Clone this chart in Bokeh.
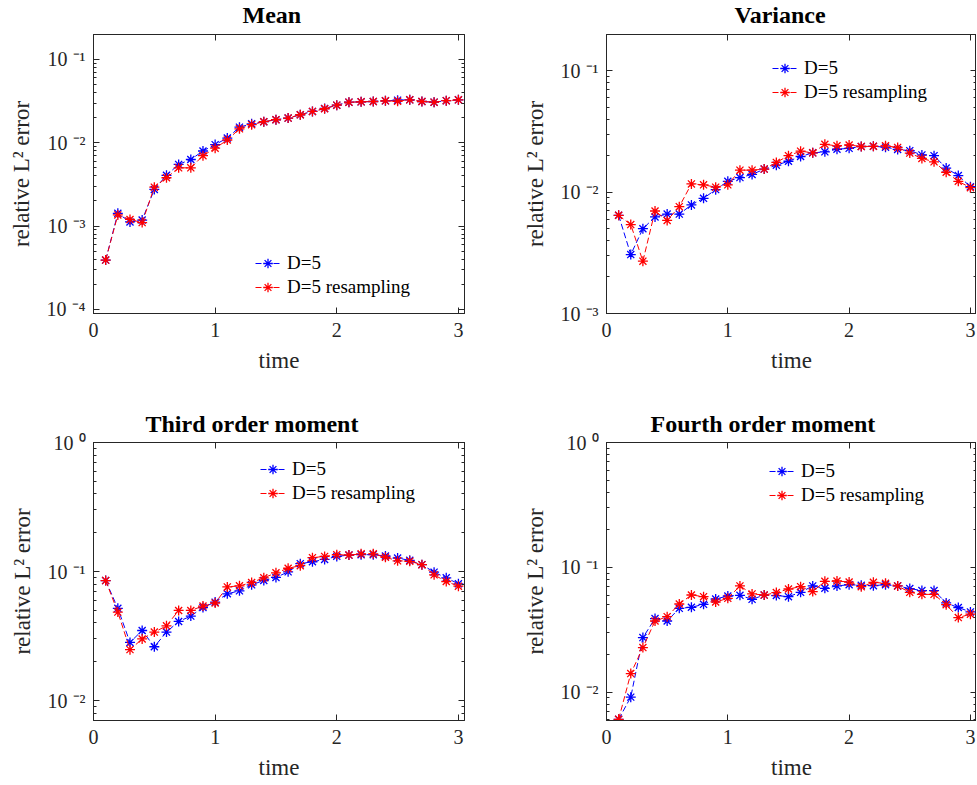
from bokeh.plotting import figure
from bokeh.layouts import column, row
from bokeh.models import (LogAxis, LinearAxis, FixedTicker, LogTicker, Range1d,
                          CustomJSTickFormatter, Legend, LegendItem)
from bokeh.embed import file_html
from bokeh.resources import INLINE

# ---------------------------------------------------------------- data
time = [0.1, 0.2, 0.3, 0.4, 0.5, 0.6, 0.7, 0.8, 0.9, 1.0,
        1.1, 1.2, 1.3, 1.4, 1.5, 1.6, 1.7, 1.8, 1.9, 2.0,
        2.1, 2.2, 2.3, 2.4, 2.5, 2.6, 2.7, 2.8, 2.9, 3.0]

mean_d5 = [3.9e-4, 1.42e-3, 1.12e-3, 1.18e-3, 2.75e-3, 4.07e-3, 5.5e-3, 6.3e-3, 7.97e-3, 9.5e-3,
           1.14e-2, 1.54e-2, 1.69e-2, 1.79e-2, 1.89e-2, 1.98e-2, 2.17e-2, 2.38e-2, 2.58e-2, 2.83e-2,
           3.07e-2, 3.1e-2, 3.13e-2, 3.19e-2, 3.25e-2, 3.28e-2, 3.13e-2, 3.07e-2, 3.2e-2, 3.28e-2]
mean_rs = [3.9e-4, 1.36e-3, 1.2e-3, 1.1e-3, 2.93e-3, 3.8e-3, 5.0e-3, 5.0e-3, 7.0e-3, 8.6e-3,
           1.08e-2, 1.47e-2, 1.65e-2, 1.79e-2, 1.89e-2, 1.98e-2, 2.17e-2, 2.38e-2, 2.56e-2, 2.83e-2,
           3.07e-2, 3.1e-2, 3.13e-2, 3.19e-2, 3.15e-2, 3.28e-2, 3.13e-2, 3.07e-2, 3.2e-2, 3.28e-2]

var_d5 = [6.45e-3, 3.06e-3, 5.0e-3, 6.25e-3, 6.6e-3, 6.6e-3, 7.85e-3, 8.9e-3, 1.05e-2, 1.23e-2,
          1.32e-2, 1.4e-2, 1.55e-2, 1.67e-2, 1.8e-2, 1.97e-2, 2.11e-2, 2.15e-2, 2.26e-2, 2.3e-2,
          2.38e-2, 2.39e-2, 2.35e-2, 2.25e-2, 2.2e-2, 2.03e-2, 2.0e-2, 1.58e-2, 1.37e-2, 1.11e-2]
var_rs = [6.45e-3, 5.41e-3, 2.7e-3, 7.0e-3, 5.85e-3, 7.6e-3, 1.17e-2, 1.15e-2, 1.1e-2, 1.15e-2,
          1.52e-2, 1.52e-2, 1.55e-2, 1.76e-2, 2.0e-2, 2.18e-2, 2.11e-2, 2.48e-2, 2.41e-2, 2.45e-2,
          2.38e-2, 2.39e-2, 2.41e-2, 2.34e-2, 2.1e-2, 1.9e-2, 1.78e-2, 1.46e-2, 1.23e-2, 1.09e-2]

third_d5 = [8.5e-2, 5.18e-2, 2.82e-2, 3.49e-2, 2.61e-2, 3.39e-2, 4.1e-2, 4.51e-2, 5.26e-2, 5.79e-2,
            6.72e-2, 7.08e-2, 7.88e-2, 8.52e-2, 8.99e-2, 9.94e-2, 0.115, 0.119, 0.124, 0.131,
            0.134, 0.135, 0.135, 0.132, 0.127, 0.122, 0.113, 9.89e-2, 8.93e-2, 8.03e-2]
third_rs = [8.5e-2, 4.85e-2, 2.48e-2, 3.0e-2, 3.39e-2, 3.79e-2, 4.99e-2, 4.99e-2, 5.4e-2, 5.7e-2,
            7.6e-2, 7.74e-2, 8.22e-2, 8.93e-2, 9.76e-2, 0.106, 0.111, 0.128, 0.131, 0.135,
            0.134, 0.137, 0.137, 0.129, 0.121, 0.120, 0.113, 9.42e-2, 8.37e-2, 7.7e-2]

fourth_d5 = [6.07e-3, 9.14e-3, 2.74e-2, 3.89e-2, 3.72e-2, 4.7e-2, 4.79e-2, 5.06e-2, 5.58e-2, 5.9e-2,
             5.97e-2, 5.55e-2, 6.0e-2, 5.95e-2, 5.83e-2, 6.31e-2, 7.1e-2, 6.8e-2, 7.1e-2, 7.27e-2,
             7.18e-2, 7.14e-2, 7.27e-2, 7.1e-2, 6.76e-2, 6.52e-2, 6.52e-2, 5.19e-2, 4.77e-2, 4.4e-2]
fourth_rs = [6.07e-3, 1.41e-2, 2.28e-2, 3.72e-2, 4.03e-2, 5.09e-2, 6.01e-2, 5.83e-2, 5.28e-2, 5.65e-2,
             7.1e-2, 6.13e-2, 6.0e-2, 6.28e-2, 6.71e-2, 7.01e-2, 6.4e-2, 7.73e-2, 7.78e-2, 7.63e-2,
             7.01e-2, 7.59e-2, 7.45e-2, 7.1e-2, 6.31e-2, 6.08e-2, 6.08e-2, 5.03e-2, 3.96e-2, 4.22e-2]

x_ticks = [0, 1, 2, 3]
series_labels = ["D=5", "D=5 resampling"]

FONT = "Liberation Serif"
AXIS_COLOR = "#262626"

# "10 ⁻¹" style labels for the decades
pow10 = CustomJSTickFormatter(code="""
    const e = Math.round(Math.log10(tick));
    const sup = {'-':'\u207b','0':'\u2070','1':'\u00b9','2':'\u00b2','3':'\u00b3',
                 '4':'\u2074','5':'\u2075','6':'\u2076','7':'\u2077','8':'\u2078','9':'\u2079'};
    return '10 ' + String(e).split('').map(c => sup[c]).join('');
""")


def style_axis(ax, labels=True):
    ax.axis_line_color = AXIS_COLOR
    ax.major_tick_line_color = AXIS_COLOR
    ax.minor_tick_line_color = AXIS_COLOR
    ax.major_tick_in = 6
    ax.major_tick_out = 0
    ax.minor_tick_in = 3
    ax.minor_tick_out = 0
    ax.major_label_text_font = FONT
    ax.axis_label_text_font = FONT
    ax.axis_label_text_font_style = "normal"
    ax.axis_label_text_font_size = "23px"
    ax.axis_label_text_color = AXIS_COLOR
    if labels:
        ax.major_label_text_font_size = "20px"
        ax.major_label_text_color = AXIS_COLOR
    else:
        ax.major_label_text_font_size = "1px"
        ax.major_label_text_color = None
        ax.major_label_standoff = 0


def panel(title, title_offset, title_standoff, y_lo, y_hi, d5, rs, legend_xy,
          left, right, top, bottom, fw, fh, margin):
    p = figure(title=title, x_range=Range1d(0, 3.05), y_range=Range1d(y_lo, y_hi),
               y_axis_type="log", frame_width=fw, frame_height=fh,
               min_border_left=left, min_border_right=right,
               min_border_top=top, min_border_bottom=bottom, margin=margin,
               output_backend="svg", toolbar_location=None,
               background_fill_color="white", border_fill_color="white")
    p.outline_line_color = AXIS_COLOR
    p.xgrid.visible = False
    p.ygrid.visible = False

    p.title.text_font = FONT
    p.title.text_font_size = "24px"
    p.title.text_font_style = "bold"
    p.title.text_color = "black"
    p.title.align = "left"
    p.title.offset = title_offset
    p.title.standoff = title_standoff

    p.xaxis.ticker = FixedTicker(ticks=x_ticks, minor_ticks=[])
    p.xaxis.axis_label = "time"
    p.xaxis.major_label_standoff = 9
    p.xaxis.axis_label_standoff = 8
    p.yaxis.ticker = LogTicker(num_minor_ticks=10)
    p.yaxis.formatter = pow10
    p.yaxis.axis_label = "relative L\u00b2 error"
    p.yaxis.major_label_standoff = 8
    p.yaxis.axis_label_standoff = 10
    style_axis(p.xaxis[0])
    style_axis(p.yaxis[0])

    # box ticks on the opposite sides
    ax_top = LinearAxis(ticker=FixedTicker(ticks=x_ticks, minor_ticks=[]))
    ax_right = LogAxis(ticker=LogTicker(num_minor_ticks=10))
    style_axis(ax_top, labels=False)
    style_axis(ax_right, labels=False)
    p.add_layout(ax_top, "above")
    p.add_layout(ax_right, "right")

    l1 = p.line(time, d5, line_color="blue", line_width=1, line_dash="6 3")
    s1 = p.scatter(time, d5, marker="asterisk", size=10, line_color="blue", line_width=1.3)
    l2 = p.line(time, rs, line_color="red", line_width=1, line_dash="6 3")
    s2 = p.scatter(time, rs, marker="asterisk", size=10, line_color="red", line_width=1.3)

    leg = Legend(items=[LegendItem(label=series_labels[0], renderers=[l1, s1]),
                        LegendItem(label=series_labels[1], renderers=[l2, s2])],
                 location=legend_xy, padding=0, spacing=0,
                 glyph_width=25, glyph_height=24, label_height=24, label_standoff=7,
                 label_text_font=FONT, label_text_font_size="19px",
                 label_text_color="black", border_line_color=None,
                 background_fill_alpha=0)
    p.add_layout(leg, "center")
    return p


TOP_ROW_MARGIN = (-8, 0, 0, 0)
p_mean = panel("Mean", 149, 14, 10 ** -4.05, 10 ** -0.7, mean_d5, mean_rs, (162, 14),
               93, 30, 33, 75, 371, 279, TOP_ROW_MARGIN)
p_var = panel("Variance", 128, 14, 1e-3, 10 ** -0.7, var_d5, var_rs, (166, 209),
              112, 0, 33, 75, 370, 279, TOP_ROW_MARGIN)
p_third = panel("Third order moment", 52, 12, 7e-3, 1.0, third_d5, third_rs, (167, 215),
                93, 30, 54, 62, 371, 278, 0)
p_fourth = panel("Fourth order moment", 44, 12, 5.94e-3, 1.0, fourth_d5, fourth_rs, (163, 213),
                 112, 0, 54, 62, 370, 278, 0)

layout = column(row(p_mean, p_var), row(p_third, p_fourth))

open("out.html", "w").write(file_html(layout, INLINE))
